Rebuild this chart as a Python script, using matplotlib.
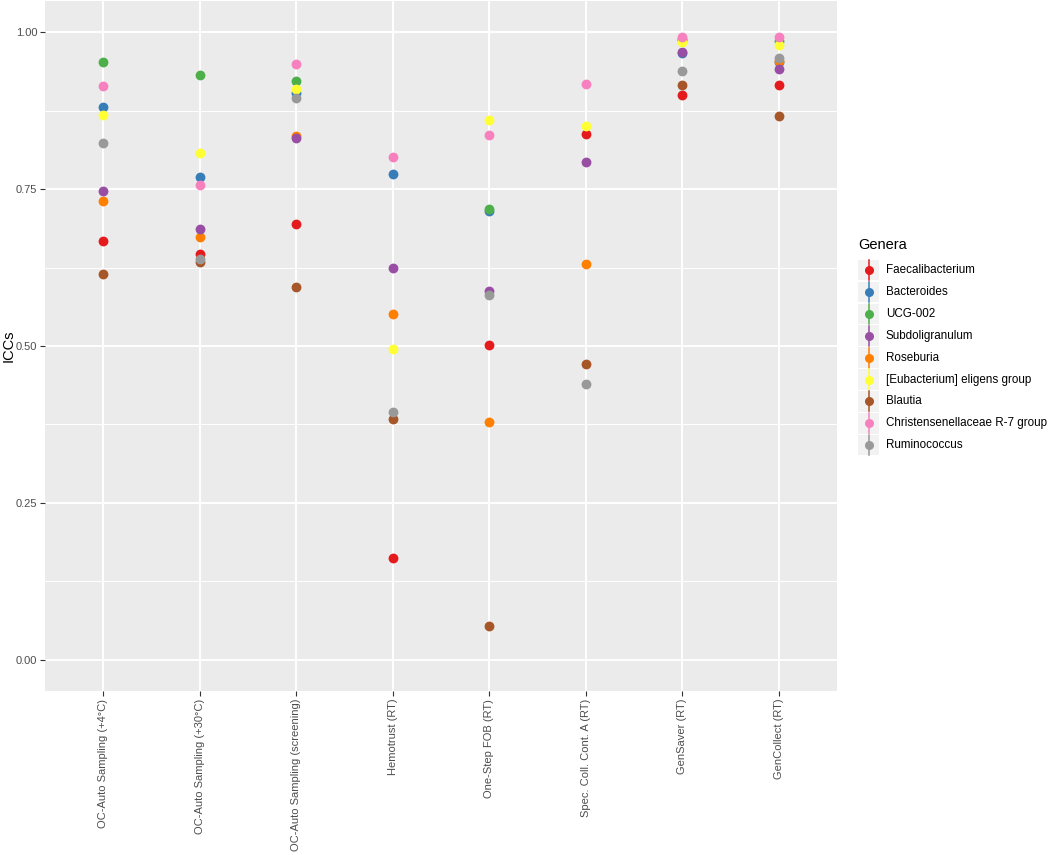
import numpy as np
import matplotlib
matplotlib.use("Agg")
import matplotlib.pyplot as plt
from matplotlib.patches import Rectangle
from matplotlib.lines import Line2D

plt.rcParams['font.family'] = ['Liberation Sans', 'DejaVu Sans']

nan = np.nan

# categories on x
kits = ["OC-Auto Sampling (+4\u00b0C)", "OC-Auto Sampling (+30\u00b0C)",
        "OC-Auto Sampling (screening)", "Hemotrust (RT)", "One-Step FOB (RT)",
        "Spec. Coll. Cont. A (RT)", "GenSaver (RT)", "GenCollect (RT)"]

# ICC values per genus (one value per kit)
faecalibacterium = [0.667, 0.647, 0.695, 0.162, 0.502, 0.838, 0.900, 0.916]
bacteroides = [0.881, 0.770, 0.903, 0.775, 0.716, nan, 0.967, 0.953]
ucg002 = [0.953, 0.932, 0.922, nan, 0.719, nan, 0.990, 0.987]
subdoligranulum = [0.747, 0.686, 0.831, 0.625, 0.587, 0.793, 0.968, 0.941]
roseburia = [0.731, 0.674, 0.834, 0.551, 0.379, 0.630, 0.988, 0.954]
eubacterium = [0.869, 0.808, 0.909, 0.496, 0.860, 0.850, 0.984, 0.980]
blautia = [0.614, 0.634, 0.594, 0.384, 0.053, 0.471, 0.916, 0.866]
christensenellaceae = [0.914, 0.757, 0.949, 0.802, 0.837, 0.917, 0.993, 0.993]
ruminococcus = [0.824, 0.638, 0.896, 0.394, 0.582, 0.439, 0.938, 0.959]

genera = ["Faecalibacterium", "Bacteroides", "UCG-002", "Subdoligranulum",
          "Roseburia", "[Eubacterium] eligens group", "Blautia",
          "Christensenellaceae R-7 group", "Ruminococcus"]
values = [faecalibacterium, bacteroides, ucg002, subdoligranulum, roseburia,
          eubacterium, blautia, christensenellaceae, ruminococcus]
colors = ["#E41A1C", "#377EB8", "#4DAF4A", "#984EA3", "#FF7F00",
          "#FFFF33", "#A65628", "#F781BF", "#999999"]
# drawing order (roseburia sits under subdoligranulum in the original)
draw_order = [0, 1, 2, 4, 3, 5, 6, 7, 8]

W, H = 1050, 855
fig = plt.figure(figsize=(W / 100, H / 100), dpi=100)
ax = fig.add_axes([45 / W, 1 - 691 / H, (837 - 45) / W, 690 / H])

ax.set_facecolor("#EBEBEB")
for s in ax.spines.values():
    s.set_visible(False)

x = np.arange(1, len(kits) + 1)
for i in draw_order:
    ax.scatter(x, values[i], s=50, color=colors[i], linewidths=0, zorder=3)

ax.set_xlim(0.4, len(kits) + 0.6)
ax.set_ylim(-0.05, 1.05)
ax.set_yticks([0, 0.25, 0.5, 0.75, 1.0])
ax.set_yticklabels(["0.00", "0.25", "0.50", "0.75", "1.00"])
ax.set_yticks([0.125, 0.375, 0.625, 0.875], minor=True)
ax.set_xticks(x)
ax.set_xticklabels(kits, rotation=90)
ax.grid(True, which="major", color="white", linewidth=1.4, zorder=0)
ax.grid(True, which="minor", axis="y", color="white", linewidth=0.7, zorder=0)
ax.set_axisbelow(True)
ax.tick_params(which="major", length=3.5, width=0.8, color="#333333",
               labelcolor="#4D4D4D", labelsize=8, pad=2)
ax.tick_params(which="minor", length=0)


# legend drawn by hand, ggplot style
def fx(px):
    return px / W

def fy(py):
    return 1 - py / H

# y axis title
fig.text(fx(9), fy(346), "ICCs", fontsize=10.5, rotation=90,
         ha="center", va="center")

fig.text(fx(858), fy(245), "Genera", fontsize=10.5, va="center", ha="left")
step = 21.9
for k, (g, c) in enumerate(zip(genera, colors)):
    cy = 270 + k * step
    fig.add_artist(Rectangle((fx(858), fy(cy + 10.3)), 21 / W, 20.6 / H,
                             transform=fig.transFigure, facecolor="#F2F2F2",
                             edgecolor="none"))
    fig.add_artist(Line2D([fx(868.5), fx(868.5)], [fy(cy + 10), fy(cy - 10)],
                          transform=fig.transFigure, color=c, linewidth=1.1))
    fig.add_artist(Line2D([fx(868.5)], [fy(cy)], transform=fig.transFigure,
                          marker="o", markersize=6.5, color=c, linewidth=0,
                          markeredgewidth=0))
    fig.text(fx(886), fy(cy), g, fontsize=8.4, va="center", ha="left")

fig.savefig("out.png", dpi=100)
